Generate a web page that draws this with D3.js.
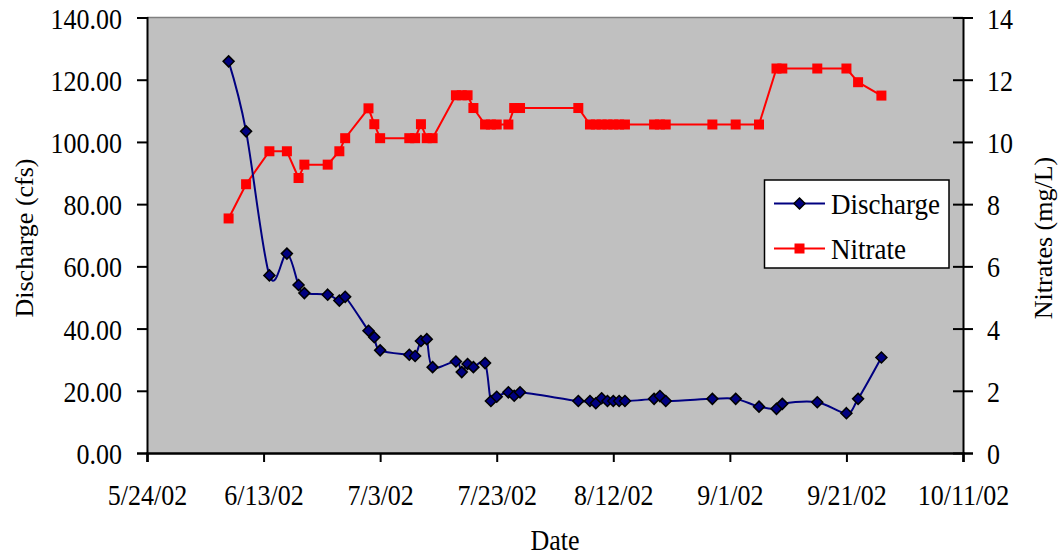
<!DOCTYPE html>
<html><head><meta charset="utf-8">
<script src="https://cdn.jsdelivr.net/npm/d3@7"></script>
<style>
body{margin:0;background:#fff;}
svg text{fill:#000;}
</style></head>
<body><svg id="c" width="1058" height="557"></svg>
<script>
const dates = ["6/7/02","6/10/02","6/14/02","6/17/02","6/19/02","6/20/02","6/24/02","6/26/02","6/27/02","7/1/02","7/2/02","7/3/02","7/8/02","7/9/02","7/10/02","7/11/02","7/12/02","7/16/02","7/17/02","7/18/02","7/19/02","7/21/02","7/22/02","7/23/02","7/25/02","7/26/02","7/27/02","8/6/02","8/8/02","8/9/02","8/10/02","8/11/02","8/12/02","8/13/02","8/14/02","8/19/02","8/20/02","8/21/02","8/29/02","9/2/02","9/6/02","9/9/02","9/10/02","9/16/02","9/21/02","9/23/02","9/27/02"];
const discharge = [125.9,103.4,57.1,64.1,54.0,51.4,50.9,49.0,50.2,39.3,37.2,33.0,31.6,31.2,36.0,36.6,27.6,29.4,26.0,28.6,27.6,28.9,16.7,18.1,19.5,18.4,19.5,16.7,16.7,16.0,17.6,16.7,16.7,16.7,16.7,17.4,18.3,16.7,17.4,17.4,14.9,14.2,15.8,16.3,12.8,17.4,30.7];
const nitrate = [7.54,8.64,9.70,9.70,8.84,9.27,9.27,9.70,10.12,11.08,10.57,10.12,10.12,10.12,10.57,10.12,10.12,11.50,11.50,11.50,11.09,10.56,10.56,10.56,10.56,11.09,11.09,11.09,10.56,10.56,10.56,10.56,10.56,10.56,10.56,10.56,10.56,10.56,10.56,10.56,10.56,12.36,12.36,12.36,12.36,11.92,11.49];
const xTickLabels = ["5/24/02","6/13/02","7/3/02","7/23/02","8/12/02","9/1/02","9/21/02","10/11/02"];
const leftTicks = [0,20,40,60,80,100,120,140];
const rightTicks = [0,2,4,6,8,10,12,14];
const seriesNames = ["Discharge","Nitrate"];

const parse = d3.timeParse("%m/%d/%y");
const svg = d3.select("#c");
const L=147,R=963,T=17.5,B=453;
const FF = '"Liberation Serif","Times New Roman",serif';
const SY = 1.1;
const x = d3.scaleTime().domain([parse(xTickLabels[0]), parse(xTickLabels[xTickLabels.length-1])]).range([L,R]);
const y = d3.scaleLinear().domain([0,140]).range([B,T]);
const y2 = d3.scaleLinear().domain([0,14]).range([B,T]);

svg.append("rect").attr("x",L).attr("y",T).attr("width",R-L).attr("height",B-T).attr("fill","#C0C0C0");
svg.append("line").attr("x1",L).attr("x2",R).attr("y1",T).attr("y2",T).attr("stroke","#808080").attr("stroke-width",1.5);

const fs = 26;
const gl = svg.append("g").attr("transform",`translate(${L},0)`)
  .call(d3.axisLeft(y).tickValues(leftTicks).tickFormat(d3.format(".2f")).tickSizeOuter(0).tickSize(10));
gl.attr("font-family",FF).attr("font-size",fs);
gl.select(".domain").attr("stroke","#000").attr("stroke-width",2);
gl.selectAll(".tick line").attr("stroke","#000").attr("stroke-width",2);
gl.selectAll("text").attr("x",0).attr("y",0).attr("dy",null).attr("transform",`translate(-25,10.5) scale(1,${SY})`);

const gr = svg.append("g").attr("transform",`translate(${R},0)`)
  .call(d3.axisRight(y2).tickValues(rightTicks).tickFormat(d3.format("d")).tickSizeOuter(0).tickSize(10));
gr.attr("font-family",FF).attr("font-size",fs);
gr.select(".domain").attr("stroke","#000").attr("stroke-width",2);
gr.selectAll(".tick line").attr("x1",-10).attr("stroke","#000").attr("stroke-width",2);
gr.selectAll("text").attr("x",0).attr("y",0).attr("dy",null).attr("transform",`translate(24,10.5) scale(1,${SY})`);

const gb = svg.append("g").attr("transform",`translate(0,${B})`)
  .call(d3.axisBottom(x).tickValues(xTickLabels.map(parse)).tickFormat(d3.timeFormat("%-m/%-d/%y")).tickSizeOuter(0).tickSize(9));
gb.attr("font-family",FF).attr("font-size",fs);
gb.select(".domain").attr("stroke","#000").attr("stroke-width",2.5);
gb.selectAll(".tick line").attr("stroke","#000").attr("stroke-width",2);
gb.selectAll("text").attr("y",0).attr("dy",null).attr("transform",`translate(0,52) scale(1,${SY})`);

svg.append("text").attr("transform",`translate(555,550) scale(1,${SY})`).attr("text-anchor","middle").attr("font-size",fs).attr("font-family",FF).text("Date");
svg.append("text").attr("transform","translate(33,238) rotate(-90)").attr("text-anchor","middle").attr("font-size",fs).attr("font-family",FF).text("Discharge (cfs)");
svg.append("text").attr("transform","translate(1052,238) rotate(-90)").attr("text-anchor","middle").attr("font-size",fs).attr("font-family",FF).text("Nitrates (mg/L)");

const rows = dates.map((d,i)=>({d:parse(d),q:discharge[i],n:nitrate[i]}));

svg.append("path").datum(rows).attr("fill","none").attr("stroke","#FF0000").attr("stroke-width",2)
  .attr("d",d3.line().x(r=>x(r.d)).y(r=>y2(r.n)));
svg.append("path").datum(rows).attr("fill","none").attr("stroke","#000080").attr("stroke-width",2)
  .attr("d",d3.line().x(r=>x(r.d)).y(r=>y(r.q)).curve(d3.curveCardinal.tension(0)));

const sq = 10, dm = 5.5;
svg.append("g").selectAll("rect").data(rows).join("rect")
  .attr("x",r=>x(r.d)-sq/2).attr("y",r=>y2(r.n)-sq/2).attr("width",sq).attr("height",sq).attr("fill","#FF0000");
const diamond = (cx,cy)=>`M${cx},${cy-dm}L${cx+dm},${cy}L${cx},${cy+dm}L${cx-dm},${cy}Z`;
svg.append("g").selectAll("path").data(rows).join("path")
  .attr("d",r=>diamond(x(r.d),y(r.q))).attr("fill","#000080").attr("stroke","#000").attr("stroke-width",1.5);

const lg = svg.append("g");
lg.append("rect").attr("x",764.5).attr("y",180).attr("width",184.5).attr("height",88).attr("fill","#fff").attr("stroke","#000").attr("stroke-width",1.5);
const ly = [203.5,248.5];
lg.append("line").attr("x1",774).attr("x2",825).attr("y1",ly[0]).attr("y2",ly[0]).attr("stroke","#000080").attr("stroke-width",2);
lg.append("path").attr("d",diamond(799.5,ly[0])).attr("fill","#000080").attr("stroke","#000").attr("stroke-width",1.5);
lg.append("line").attr("x1",774).attr("x2",825).attr("y1",ly[1]).attr("y2",ly[1]).attr("stroke","#FF0000").attr("stroke-width",2);
lg.append("rect").attr("x",799.5-sq/2).attr("y",ly[1]-sq/2).attr("width",sq).attr("height",sq).attr("fill","#FF0000");
lg.selectAll("text.l").data(seriesNames).join("text").attr("class","l")
  .attr("transform",(d,i)=>`translate(831,${ly[i]+10}) scale(1,${SY})`).attr("font-size",27).attr("font-family",FF).text(d=>d);
</script></body></html>
